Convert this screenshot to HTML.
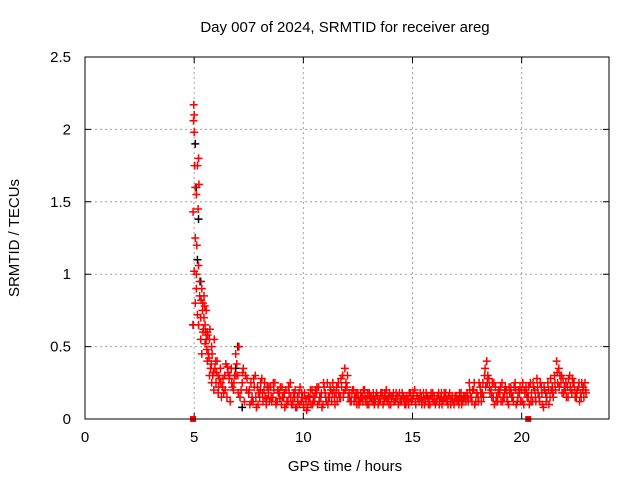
<!DOCTYPE html>
<html><head><meta charset="utf-8"><style>
html,body{margin:0;padding:0;background:#fff}
svg{display:block}
text{font-family:"Liberation Sans",sans-serif;font-size:15px;fill:#000}
</style></head><body>
<svg id="c" width="640" height="480">
<text x="345" y="32" text-anchor="middle">Day 007 of 2024, SRMTID for receiver areg</text>
<text x="345" y="471" text-anchor="middle">GPS time / hours</text>
<text transform="translate(19,238) rotate(-90)" text-anchor="middle">SRMTID / TECUs</text>
</svg>
<script>
const xTicks=[0,5,10,15,20];
const yTicks=[0,0.5,1,1.5,2,2.5];
const yTickLabels=["0","0.5","1","1.5","2","2.5"];
const earlyT=[4.95,4.97,4.98,5.0,5.0,5.02,5.05,5.05,5.1,5.1,5.12,5.15,5.18,5.2,5.22,5.2,5.25,5.0,4.95,5.05,5.1,5.15,5.2,5.25,5.3,5.3,5.35,5.35,5.4,5.4,5.45,5.45,5.5,5.5,5.55,5.55,5.6,5.6,5.65,5.7,5.7,5.75,5.8,5.8,5.85,5.9,5.95,6.0,6.1,6.1,6.2,6.3,6.4,6.5,6.6,6.7,6.8,6.9,7.0,7.1,7.2,7.3,7.4,6.05,6.25,6.45,6.65,6.85,7.05,7.25,5.32,5.38,5.42,5.48,5.52,5.58,5.62,5.68,5.72,5.78,5.82,5.88,5.92,5.98,6.15,6.35,6.55,6.75,6.95,7.15,7.35,6.02,6.22,6.42,6.62,6.82,7.02,7.22,7.42,6.12,6.32,6.52,6.72,6.92];
const earlyV=[1.43,2.06,2.17,1.98,2.1,1.75,1.6,1.25,1.55,1.0,1.2,1.75,1.45,1.8,1.62,1.06,0.95,1.02,0.65,0.8,0.9,0.72,0.65,0.85,0.7,0.55,0.9,0.45,0.8,0.6,0.85,0.7,0.65,0.52,0.55,0.75,0.4,0.6,0.45,0.55,0.3,0.35,0.25,0.5,0.3,0.2,0.35,0.25,0.18,0.3,0.35,0.22,0.3,0.15,0.28,0.35,0.2,0.45,0.3,0.15,0.25,0.12,0.2,0.4,0.15,0.38,0.12,0.3,0.5,0.35,0.82,0.75,0.62,0.78,0.6,0.48,0.58,0.42,0.62,0.38,0.45,0.32,0.55,0.4,0.28,0.18,0.32,0.22,0.38,0.2,0.3,0.32,0.25,0.2,0.3,0.25,0.18,0.32,0.28,0.22,0.28,0.36,0.25,0.3];
const tailStart=7.5, tailStep=0.1;
const tailA=[.18,.25,.12,.30,.22,.15,.28,.20,.10,.18,.22,.15,.25,.12,.18,.10,.15,.20,.12,.25,.10,.15,.08,.18,.12,.10,.14,.08,.15,.20,.12,.18,.22,.15,.10,.18,.25,.15,.12,.20,.18,.25,.15,.30,.35,.22,.18,.12,.20,.15,.18,.12,.15,.20,.14,.10,.15,.18,.12,.16,.14,.18,.12,.20,.15,.10,.16,.12,.14,.18,.12,.15,.10,.13,.18,.14,.20,.16,.12,.15,.18,.12,.15,.10,.14,.16,.12,.18,.15,.13,.15,.12,.18,.14,.10,.16,.13,.15,.12,.14,.18,.25,.15,.20,.12,.15,.22,.18,.30,.40,.28,.20,.15,.22,.12,.18,.25,.15,.20,.10,.22,.15,.25,.12,.18,.20,.10,.22,.15,.25,.12,.20,.28,.15,.22,.08,.18,.25,.15,.22,.30,.40,.35,.25,.28,.20,.22,.30,.18,.25,.15,.22,.18,.20,.25];
const tailB=[.10,.15,.22,.08,.18,.25,.12,.15,.22,.12,.12,.20,.10,.18,.22,.15,.08,.12,.18,.10,.18,.08,.12,.22,.15,.18,.06,.12,.10,.15,.20,.10,.15,.08,.22,.12,.15,.20,.25,.10,.12,.15,.22,.18,.25,.15,.12,.20,.15,.10,.10,.15,.20,.12,.18,.15,.12,.10,.18,.12,.18,.10,.15,.12,.18,.14,.12,.18,.10,.12,.16,.10,.14,.18,.12,.16,.10,.14,.18,.12,.10,.16,.12,.18,.12,.10,.16,.12,.10,.18,.12,.16,.10,.12,.16,.12,.18,.10,.16,.12,.12,.15,.20,.10,.18,.25,.12,.15,.22,.30,.18,.25,.10,.15,.20,.12,.15,.22,.12,.18,.15,.22,.10,.20,.12,.25,.18,.15,.10,.18,.22,.12,.18,.25,.10,.20,.15,.10,.20,.15,.20,.25,.30,.18,.22,.15,.28,.20,.25,.15,.20,.12,.25,.15,.18];
const tailC=[.20,.12,.28,.15,.10,.20,.18,.25,.14,.22,.15,.25,.12,.20,.14,.22,.18,.10,.22,.15,.12,.20,.15,.10,.18,.08,.12,.16,.20,.10,.15,.22,.12,.18,.25,.15,.10,.22,.18,.15,.22,.18,.28,.15,.20,.30,.15,.18,.12,.18,.14,.18,.12,.16,.10,.18,.14,.12,.16,.10,.12,.16,.18,.14,.10,.16,.18,.14,.16,.12,.18,.12,.16,.10,.14,.18,.12,.16,.14,.10,.14,.18,.10,.16,.18,.12,.14,.10,.18,.14,.18,.10,.14,.16,.12,.14,.10,.18,.14,.16,.15,.20,.12,.25,.18,.12,.18,.25,.35,.25,.22,.15,.25,.12,.18,.22,.12,.20,.15,.22,.18,.12,.20,.15,.22,.12,.20,.18,.22,.12,.25,.15,.22,.12,.18,.22,.12,.20,.28,.18,.25,.32,.22,.30,.18,.25,.15,.22,.28,.20,.18,.25,.15,.22,.20];
const blackT=[4.95,5.05,5.1,5.2,5.3,7.0,7.2,5.15,6.9];
const blackV=[0.65,1.9,1.6,1.38,0.95,0.5,0.08,1.1,0.35];
const zeroT=[4.95,20.3];

const X0=85,X1=609,Y0=419,Y1=57,XMAX=24,YMAX=2.5;
const sx=v=>X0+(X1-X0)*v/XMAX;
const sy=v=>Y0-(Y0-Y1)*v/YMAX;
const svg=document.getElementById('c');
const NS='http://www.w3.org/2000/svg';
function mk(tag,attrs){const e=document.createElementNS(NS,tag);for(const k in attrs)e.setAttribute(k,attrs[k]);svg.appendChild(e);return e;}

xTicks.forEach((t,i)=>{
  const x=sx(t);
  if(t>0){const g=mk('line',{x1:x,y1:Y0,x2:x,y2:Y1,stroke:'#a0a0a0','stroke-dasharray':'2,3'});
  
  }
  const tk=mk('path',{d:`M${x},${Y0}v-6M${x},${Y1}v6`,stroke:'#000'});
  
  
  const l=mk('text',{x:x,y:Y0+23,'text-anchor':'middle'});l.textContent=String(t);
  
  
});
yTicks.forEach((v,i)=>{
  const y=sy(v);
  if(v>0&&v<YMAX){const g=mk('line',{x1:X0,y1:y,x2:X1,y2:y,stroke:'#a0a0a0','stroke-dasharray':'2,3'});
  
  }
  const tk=mk('path',{d:`M${X0},${y}h6M${X1},${y}h-6`,stroke:'#000'});
  
  
  const l=mk('text',{x:X0-14,y:y+5,'text-anchor':'end'});l.textContent=yTickLabels[i];
  
  
});
function plus(t,v,col,name){
  const x=sx(t),y=sy(v);
  const p=mk('path',{d:`M${x-4},${y}h8M${x},${y-4}v8`,stroke:col,'stroke-width':1.5});
  
  
}
blackT.forEach((t,i)=>plus(t,blackV[i],'#000','black-point'));
earlyT.forEach((t,i)=>plus(t,earlyV[i],'#f00','red-point'));
tailA.forEach((v,i)=>plus(tailStart+i*tailStep,v,'#f00','red-point'));
tailB.forEach((v,i)=>plus(tailStart+(i+0.5)*tailStep,v,'#f00','red-point'));
tailC.forEach((v,i)=>plus(tailStart+(i+0.25)*tailStep,v,'#f00','red-point'));
zeroT.forEach(t=>{const r=mk('rect',{x:sx(t)-3,y:Y0-3,width:6,height:6,fill:'#f00'});
  
  });
const bx=mk('rect',{x:X0,y:Y1,width:X1-X0,height:Y0-Y1,fill:'none',stroke:'#000'});


</script>
</body></html>
